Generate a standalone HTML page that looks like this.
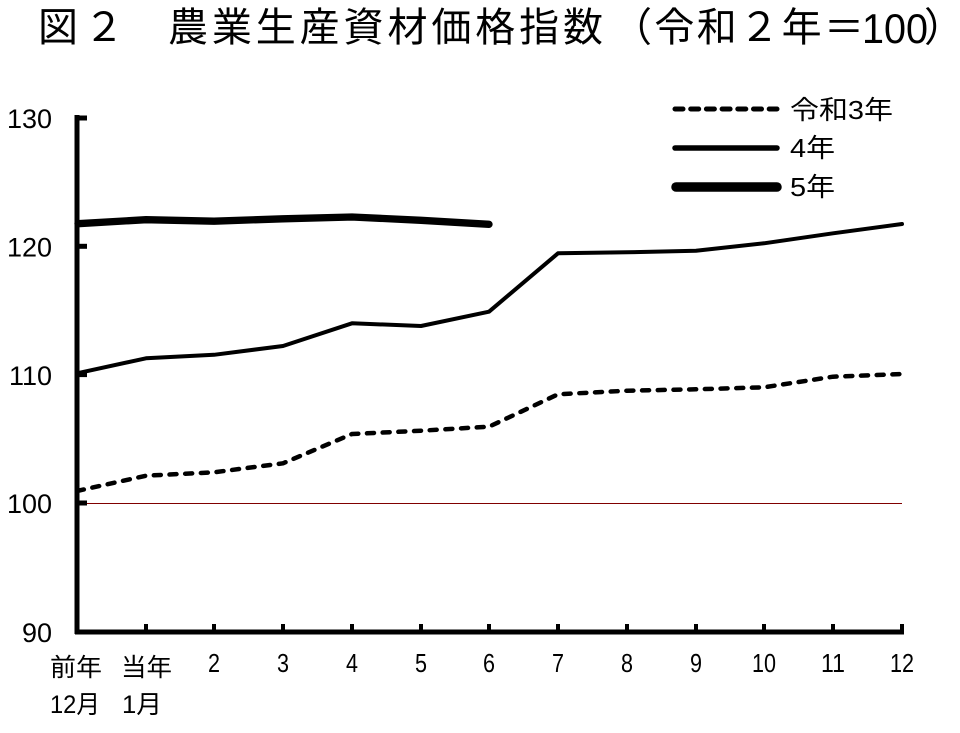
<!DOCTYPE html>
<html><head><meta charset="utf-8"><style>
html,body{margin:0;padding:0;background:#fff;}
svg{display:block;}
text{fill:#000;}
.t{font-family:"Liberation Sans","Noto Sans CJK JP",sans-serif;}
</style></head><body>
<svg width="960" height="733" viewBox="0 0 960 733" xmlns="http://www.w3.org/2000/svg">
<!-- Title -->
<text class="t" x="38" y="41" font-size="40" font-family="Noto Sans CJK JP, sans-serif" textLength="86" lengthAdjust="spacing">図２</text>
<text class="t" x="168" y="41" font-size="40" font-family="Noto Sans CJK JP, sans-serif" textLength="435" lengthAdjust="spacing">農業生産資材価格指数</text>
<text class="t" x="612" y="41" font-size="40" font-family="Noto Sans CJK JP, sans-serif" textLength="252" lengthAdjust="spacing">（令和２年＝</text>
<text class="t" x="862" y="43" font-size="42" textLength="66" lengthAdjust="spacingAndGlyphs">100</text>
<text class="t" x="924" y="41" font-size="40" font-family="Noto Sans CJK JP, sans-serif">）</text>

<!-- gridline 100 -->
<line x1="77" y1="503.5" x2="902" y2="503.5" stroke="#800000" stroke-width="1"/>

<!-- axes -->
<line x1="77" y1="115" x2="77" y2="634" stroke="#000" stroke-width="5"/>
<line x1="75" y1="632" x2="904" y2="632" stroke="#000" stroke-width="5"/>
<g stroke="#000" stroke-width="5">
<line x1="77" y1="118" x2="87" y2="118"/>
<line x1="77" y1="246.3" x2="87" y2="246.3"/>
<line x1="77" y1="374.6" x2="87" y2="374.6"/>
<line x1="77" y1="503" x2="87" y2="503"/>
</g>
<g stroke="#000" stroke-width="4">
<line x1="146" y1="624" x2="146" y2="632"/>
<line x1="214" y1="624" x2="214" y2="632"/>
<line x1="283" y1="624" x2="283" y2="632"/>
<line x1="352" y1="624" x2="352" y2="632"/>
<line x1="421" y1="624" x2="421" y2="632"/>
<line x1="489" y1="624" x2="489" y2="632"/>
<line x1="558" y1="624" x2="558" y2="632"/>
<line x1="627" y1="624" x2="627" y2="632"/>
<line x1="696" y1="624" x2="696" y2="632"/>
<line x1="764" y1="624" x2="764" y2="632"/>
<line x1="833" y1="624" x2="833" y2="632"/>
<line x1="902" y1="624" x2="902" y2="634"/>
</g>

<!-- y labels -->
<g class="t" font-size="27" text-anchor="end">
<text x="52" y="128">130</text>
<text x="52" y="256.5">120</text>
<text x="52" y="384.8">110</text>
<text x="52" y="513">100</text>
<text x="52" y="642">90</text>
</g>

<!-- x labels -->
<g class="t" font-size="26">
<text x="208" y="672" textLength="12" lengthAdjust="spacingAndGlyphs">2</text>
<text x="277" y="672" textLength="12" lengthAdjust="spacingAndGlyphs">3</text>
<text x="346" y="672" textLength="12" lengthAdjust="spacingAndGlyphs">4</text>
<text x="415" y="672" textLength="12" lengthAdjust="spacingAndGlyphs">5</text>
<text x="483" y="672" textLength="12" lengthAdjust="spacingAndGlyphs">6</text>
<text x="552" y="672" textLength="12" lengthAdjust="spacingAndGlyphs">7</text>
<text x="621" y="672" textLength="12" lengthAdjust="spacingAndGlyphs">8</text>
<text x="690" y="672" textLength="12" lengthAdjust="spacingAndGlyphs">9</text>
<text x="752" y="672" textLength="24" lengthAdjust="spacingAndGlyphs">10</text>
<text x="821" y="672" textLength="24" lengthAdjust="spacingAndGlyphs">11</text>
<text x="890" y="672" textLength="24" lengthAdjust="spacingAndGlyphs">12</text>
</g>
<g class="t" font-size="25">
<text x="50" y="676" textLength="52" lengthAdjust="spacingAndGlyphs">前年</text>
<text x="121" y="676" textLength="51" lengthAdjust="spacingAndGlyphs">当年</text>
<text x="50" y="713" textLength="50" lengthAdjust="spacingAndGlyphs">12月</text>
<text x="122" y="713" textLength="40" lengthAdjust="spacingAndGlyphs">1月</text>
</g>

<!-- series: 令和3年 dashed -->
<polyline fill="none" stroke="#000" stroke-width="4.5" stroke-linecap="round" stroke-linejoin="round" stroke-dasharray="7 8.7"
 points="77,491 146,475.7 214,472.3 283,463.3 352,434 421,430.7 489,426.7 558,394.3 627,390.7 696,389.3 764,387.3 833,376.7 902,374"/>
<!-- 4年 -->
<polyline fill="none" stroke="#000" stroke-width="4" stroke-linejoin="round" stroke-linecap="round"
 points="77,373.3 146,358.3 214,354.8 283,346 352,323.3 421,326 489,311.7 558,253.3 627,252.3 696,250.7 764,243.3 833,233.3 902,224"/>
<!-- 5年 -->
<polyline fill="none" stroke="#000" stroke-width="7.3" stroke-linejoin="round" stroke-linecap="round"
 points="78,223.7 146,219.7 214,221.2 283,218.8 352,217 421,220.3 489,224.3"/>

<!-- legend -->
<line x1="675" y1="109" x2="777" y2="109" stroke="#000" stroke-width="5" stroke-linecap="round" stroke-dasharray="8 7.7"/>
<line x1="675" y1="148" x2="777" y2="148" stroke="#000" stroke-width="5.5" stroke-linecap="round"/>
<line x1="676" y1="187" x2="777" y2="187" stroke="#000" stroke-width="9.5" stroke-linecap="round"/>
<g class="t" font-size="26">
<text x="790" y="119" textLength="103" lengthAdjust="spacingAndGlyphs">令和3年</text>
<text x="790" y="157" textLength="45" lengthAdjust="spacingAndGlyphs">4年</text>
<text x="790" y="196" textLength="45" lengthAdjust="spacingAndGlyphs">5年</text>
</g>
</svg>
</body></html>
